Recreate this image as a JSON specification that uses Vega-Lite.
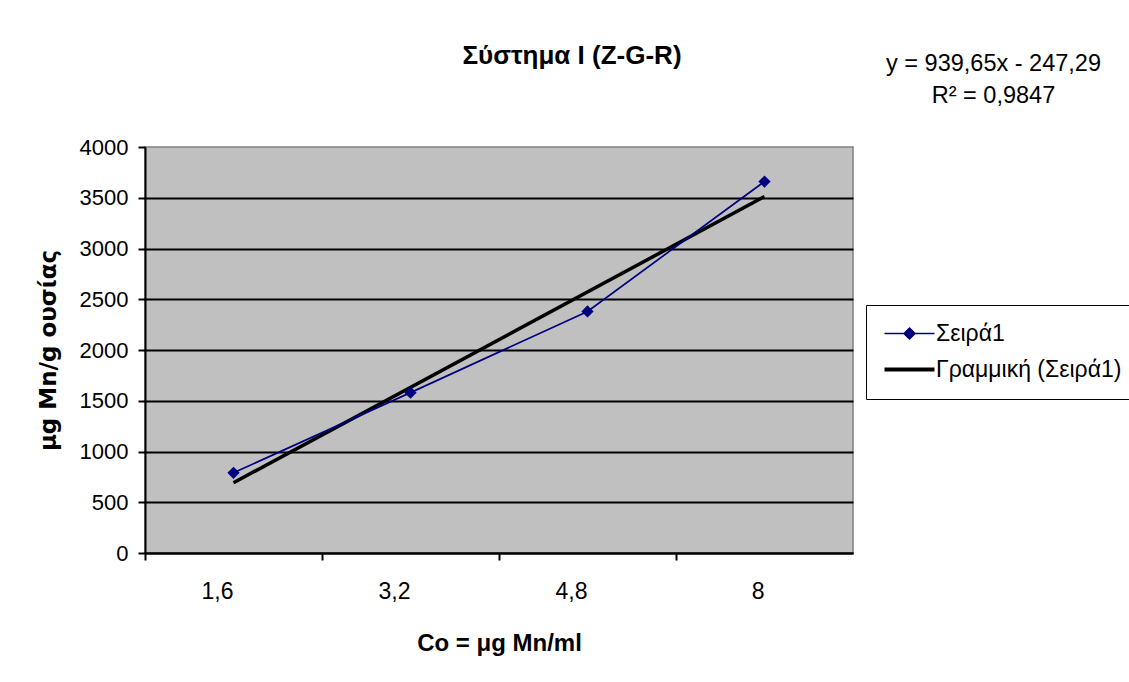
{
  "$schema": "https://vega.github.io/schema/vega-lite/v6.json",
  "width": 708,
  "height": 406,
  "autosize": "none",
  "padding": {"left": 145, "top": 147, "right": 276, "bottom": 129},
  "background": "white",
  "title": {
    "text": "Σύστημα I (Z-G-R)",
    "font": "Liberation Sans",
    "fontSize": 26,
    "fontWeight": "bold",
    "color": "black",
    "anchor": "middle",
    "frame": "group",
    "dx": 73,
    "dy": 39,
    "baseline": "alphabetic",
    "offset": 0
  },
  "datasets": {
    "measured": [
      {"Co": "1,6", "series": "Σειρά1", "value": 790},
      {"Co": "3,2", "series": "Σειρά1", "value": 1580},
      {"Co": "4,8", "series": "Σειρά1", "value": 2380},
      {"Co": "8", "series": "Σειρά1", "value": 3660}
    ],
    "trend": [
      {"Co": "1,6", "series": "Γραμμική (Σειρά1)", "value": 692.36},
      {"Co": "8", "series": "Γραμμική (Σειρά1)", "value": 3511.31}
    ]
  },
  "layer": [
    {
      "data": {"name": "trend"},
      "mark": {"type": "line", "strokeWidth": 3.5, "color": "black"},
      "encoding": {
        "x": {"field": "Co", "type": "ordinal", "sort": ["1,6", "3,2", "4,8", "8"]},
        "y": {
          "field": "value",
          "type": "quantitative",
          "axis": {
            "orient": "right",
            "domain": false,
            "ticks": false,
            "labels": false,
            "grid": false,
            "title": ["y = 939,65x - 247,29", "R² = 0,9847"],
            "titleAngle": 0,
            "titleAlign": "center",
            "titleBaseline": "alphabetic",
            "titleX": 140,
            "titleY": -77,
            "titleFont": "Liberation Sans",
            "titleFontSize": 23.5,
            "titleFontWeight": "normal",
            "titleColor": "black",
            "titleLineHeight": 32
          }
        },
        "color": {"field": "series", "type": "nominal"}
      }
    },
    {
      "data": {"name": "measured"},
      "mark": {
        "type": "line",
        "strokeWidth": 1.7,
        "point": {"shape": "diamond", "filled": true, "size": 150, "color": "#000080"}
      },
      "encoding": {
        "x": {
          "field": "Co",
          "type": "ordinal",
          "sort": ["1,6", "3,2", "4,8", "8"],
          "scale": {"type": "band", "paddingInner": 0, "paddingOuter": 0},
          "axis": {
            "title": "Co = μg Mn/ml",
            "titleFont": "Liberation Sans",
            "titleFontSize": 24,
            "titleFontWeight": "bold",
            "titleColor": "black",
            "titlePadding": 28,
            "labelAngle": 0,
            "labelFont": "Liberation Sans",
            "labelFontSize": 23,
            "labelColor": "black",
            "labelPadding": 31,
            "bandPosition": 0,
            "tickColor": "black",
            "tickWidth": 2,
            "tickSize": 7,
            "domainColor": "black",
            "domainWidth": 2,
            "grid": false
          }
        },
        "y": {
          "field": "value",
          "type": "quantitative",
          "scale": {"domain": [0, 4000], "nice": false, "zero": true},
          "axis": {
            "orient": "left",
            "values": [0, 500, 1000, 1500, 2000, 2500, 3000, 3500, 4000],
            "format": "d",
            "title": "μg Mn/g ουσίας",
            "titleFont": "DejaVu Sans",
            "titleFontSize": 23,
            "titleFontWeight": "bold",
            "titleColor": "black",
            "titleAngle": -90,
            "titleX": -97,
            "titleY": 203,
            "titleAlign": "center",
            "titleBaseline": "middle",
            "labelFont": "Liberation Sans",
            "labelFontSize": 22,
            "labelColor": "black",
            "labelPadding": 10,
            "tickColor": "black",
            "tickWidth": 2,
            "tickSize": 7,
            "domainColor": "black",
            "domainWidth": 2,
            "grid": true,
            "gridWidth": 2,
            "gridColor": {"condition": {"test": "datum.value === 4000", "value": "transparent"}, "value": "black"}
          }
        },
        "color": {
          "field": "series",
          "type": "nominal",
          "scale": {"domain": ["Σειρά1", "Γραμμική (Σειρά1)"], "range": ["#000080", "#000000"]},
          "legend": {
            "orient": "none",
            "legendX": 721,
            "legendY": 158,
            "title": null,
            "strokeColor": "black",
            "fillColor": "white",
            "padding": 17,
            "symbolSize": 900,
            "symbolOffset": 15,
            "labelOffset": 15,
            "rowPadding": 12,
            "labelFont": "Liberation Sans",
            "labelFontSize": 23,
            "labelColor": "black",
            "labelLimit": 400,
            "encode": {
              "symbols": {
                "update": {
                  "shape": {"signal": "datum.value === 'Σειρά1' ? 'M-1.667,0H1.667M-0.36,0L0,-0.36L0.36,0L0,0.36Z' : 'M-1.667,0H1.667'"},
                  "strokeWidth": {"signal": "datum.value === 'Σειρά1' ? 1.7 : 4"},
                  "fill": {"signal": "datum.value === 'Σειρά1' ? '#000080' : 'transparent'"},
                  "stroke": {"signal": "datum.value === 'Σειρά1' ? '#000080' : '#000000'"},
                  "opacity": {"value": 1}
                }
              }
            }
          }
        }
      }
    }
  ],
  "resolve": {"axis": {"y": "independent"}},
  "config": {
    "view": {"fill": "#C0C0C0", "stroke": "#808080", "strokeWidth": 1.5}
  }
}
